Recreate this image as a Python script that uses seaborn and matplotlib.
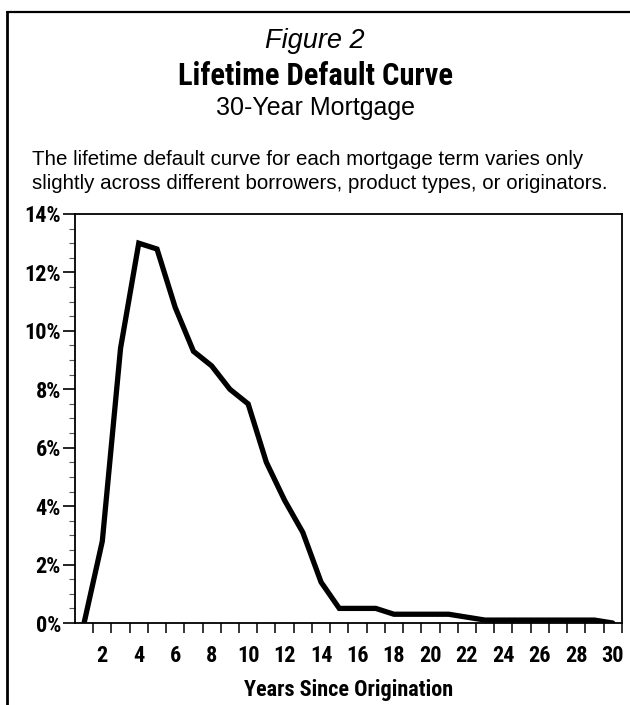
import numpy as np
import pandas as pd
import matplotlib
matplotlib.use("Agg")
import matplotlib.pyplot as plt
from matplotlib.lines import Line2D
from matplotlib.ticker import FixedLocator, FuncFormatter
import seaborn as sns

# Values (% defaulting in each year)
years = list(range(1, 31))
default_pct = [0.0, 2.8, 9.4, 13.0, 12.8, 10.8, 9.3, 8.8, 8.0, 7.5,
               5.5, 4.2, 3.1, 1.4, 0.5, 0.5, 0.5, 0.3, 0.3, 0.3,
               0.3, 0.2, 0.1, 0.1, 0.1, 0.1, 0.1, 0.1, 0.1, 0.0]
y_ticks = [0, 2, 4, 6, 8, 10, 12, 14]
x_labels = list(range(2, 31, 2))

df = pd.DataFrame({"Year": years, "Default": default_pct})

sns.set_style("ticks")
plt.rcParams["font.family"] = ["Liberation Sans", "DejaVu Sans"]
plt.rcParams["text.color"] = "black"
plt.rcParams["axes.labelcolor"] = "black"
plt.rcParams["xtick.color"] = "black"
plt.rcParams["ytick.color"] = "black"
narrow = ["Roboto Condensed", "Liberation Sans", "DejaVu Sans"]

fig = plt.figure(figsize=(6.3, 7.05), dpi=100)
ax = fig.add_axes([0.119, 0.1163, 0.868, 0.5802])

sns.lineplot(data=df, x="Year", y="Default", color="black", linewidth=3.8,
             solid_joinstyle="miter", ax=ax)

ax.set_xlim(0.5, 30.5)
ax.set_ylim(0, 14)

# y axis: major every 2%, minor every 0.5%
ax.yaxis.set_major_locator(FixedLocator(y_ticks))
ax.yaxis.set_minor_locator(FixedLocator(np.arange(0, 14.01, 0.5)))
ax.yaxis.set_major_formatter(FuncFormatter(lambda v, p: f"{v:.0f}%"))
ax.tick_params(axis="y", which="major", length=8.5, width=1.2, pad=1.5)
ax.tick_params(axis="y", which="minor", length=4.5, width=0.8, color="#555555")

# x axis: labels centred on each year, tick marks on year boundaries
ax.xaxis.set_major_locator(FixedLocator(x_labels))
ax.xaxis.set_minor_locator(FixedLocator(np.arange(1.5, 30.6, 1)))
ax.tick_params(axis="x", which="major", length=0, pad=15.5)
ax.tick_params(axis="x", which="minor", length=7, width=1.1)

for lab in ax.get_xticklabels() + ax.get_yticklabels():
    lab.set_fontfamily(narrow)
    lab.set_fontweight("bold")
    lab.set_fontsize(16)

ax.set_xlabel("Years Since Origination", fontfamily=narrow, fontweight="bold",
              fontsize=16, labelpad=9)
ax.set_ylabel("")

for s in ax.spines.values():
    s.set_linewidth(1.3)
    s.set_color("black")

# titles
fig.text(0.5, 0.9420, "Figure 2", ha="center", va="center", fontsize=19.5, style="italic")
fig.text(0.5, 0.8925, "Lifetime Default Curve", ha="center", va="center",
         fontsize=22, fontweight="bold", fontfamily=narrow)
fig.text(0.5, 0.8468, "30-Year Mortgage", ha="center", va="center", fontsize=18)
fig.text(0.051, 0.7570,
         "The lifetime default curve for each mortgage term varies only\n"
         "slightly across different borrowers, product types, or originators.",
         ha="left", va="center", fontsize=14.8, linespacing=1.35)

# page frame (top and left edges)
fig.add_artist(Line2D([0.011, 1.0], [0.983, 0.983], transform=fig.transFigure,
                      color="black", linewidth=1.6))
fig.add_artist(Line2D([0.011, 0.011], [0.0, 0.983], transform=fig.transFigure,
                      color="black", linewidth=2.0))

fig.savefig("out.png", dpi=100)
